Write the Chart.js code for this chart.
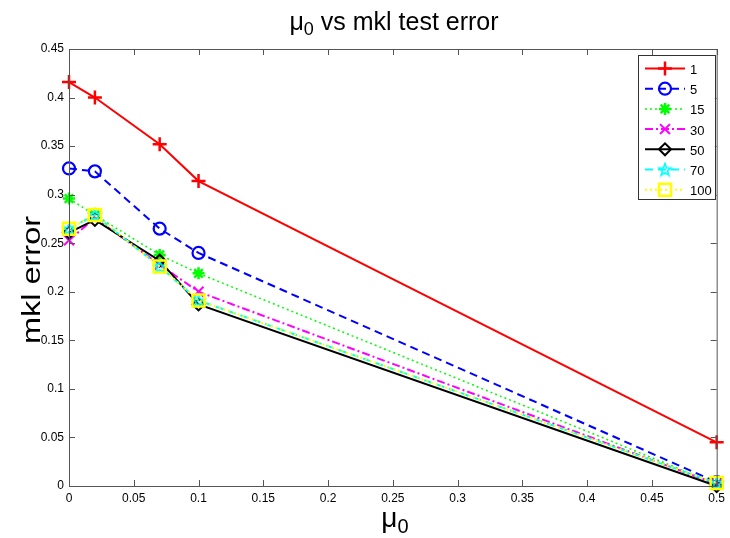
<!DOCTYPE html>
<html>
<head>
<meta charset="utf-8">
<script src="https://cdn.jsdelivr.net/npm/chart.js@4.4.1/dist/chart.umd.min.js"></script>
<style>
  html, body { margin: 0; padding: 0; background: #fff; }
  #wrap { width: 730px; height: 538px; }
</style>
</head>
<body>
<div id="wrap"><canvas id="chart" width="730" height="538"></canvas></div>
<script>
// mu_0 values on the x axis
const muValues = [0, 0.02, 0.07, 0.1, 0.5];

// mkl test error for each setting
const err1 = [0.416, 0.400, 0.352, 0.314, 0.045];
const err5 = [0.327, 0.324, 0.265, 0.240, 0.004];
const err15 = [0.296, 0.279, 0.238, 0.219, 0.002];
const err30 = [0.253, 0.276, 0.228, 0.200, 0.002];
const err50 = [0.261, 0.274, 0.232, 0.187, 0.000];
const err70 = [0.265, 0.279, 0.226, 0.191, 0.003];
const err100 = [0.265, 0.279, 0.226, 0.191, 0.003];

const seriesNames = ['1', '5', '15', '30', '50', '70', '100'];
const xTickValues = [0, 0.05, 0.1, 0.15, 0.2, 0.25, 0.3, 0.35, 0.4, 0.45, 0.5];
const yTickValues = [0, 0.05, 0.1, 0.15, 0.2, 0.25, 0.3, 0.35, 0.4, 0.45];

const FONT = '"Liberation Sans", Arial, Helvetica, sans-serif';

// hollow five point star used for the "70" series
function makePentagram(size, color) {
    const c = document.createElement('canvas');
    c.width = size;
    c.height = size;
    const g = c.getContext('2d');
    const cx = size / 2, cy = size / 2 + 0.5;
    const R = size / 2 - 1.5, r = R * 0.4;
    g.beginPath();
    for (let k = 0; k < 10; k++) {
        const a = -Math.PI / 2 + k * Math.PI / 5;
        const rr = k % 2 ? r : R;
        g.lineTo(cx + rr * Math.cos(a), cy + rr * Math.sin(a));
    }
    g.closePath();
    g.strokeStyle = color;
    g.lineWidth = 1.6;
    g.stroke();
    return c;
}

const pentagram = makePentagram(16, '#00ffff');

const styles = [
    { color: '#ff0000', dash: [], width: 2, point: 'cross', radius: 7, pw: 2.5 },
    { color: '#0000ff', dash: [8, 5], width: 2, point: 'circle', radius: 6, pw: 2.2 },
    { color: '#00ff00', dash: [2, 3], width: 1.5, point: 'star', radius: 6, pw: 2.5 },
    { color: '#ff00ff', dash: [8, 3, 2, 3], width: 2, point: 'crossRot', radius: 7, pw: 2 },
    { color: '#000000', dash: [], width: 2, point: 'rectRot', radius: 6, pw: 2 },
    { color: '#00ffff', dash: [8, 5], width: 2, point: pentagram, radius: 8, pw: 2 },
    { color: '#ffff00', dash: [2, 3], width: 2, point: 'rect', radius: 8.5, pw: 2.5 }
];

const seriesData = [err1, err5, err15, err30, err50, err70, err100];

const datasets = seriesData.map(function (vals, i) {
    const s = styles[i];
    return {
        label: seriesNames[i],
        data: muValues.map((x, j) => ({ x: x, y: vals[j] })),
        borderColor: s.color,
        borderWidth: s.width,
        borderDash: s.dash,
        pointStyle: s.point,
        pointRadius: s.radius,
        pointBorderWidth: s.pw,
        pointBorderColor: s.color,
        pointBackgroundColor: 'rgba(0,0,0,0)',
        tension: 0,
        clip: false,
        order: seriesData.length - 1 - i
    };
});

// draw text with a "0" subscript after the mu
function drawMuText(ctx, cx, baseline, size, rest) {
    const big = size + 'px ' + FONT;
    const small = Math.round(size * 0.7) + 'px ' + FONT;
    ctx.font = big;
    const wMu = ctx.measureText('\u03bc').width;
    const wRest = ctx.measureText(rest).width;
    ctx.font = small;
    const wSub = ctx.measureText('0').width;
    let x = cx - (wMu + wSub + wRest) / 2;
    ctx.textAlign = 'left';
    ctx.textBaseline = 'alphabetic';
    ctx.font = big;
    ctx.fillText('\u03bc', x, baseline);
    x += wMu;
    ctx.font = small;
    ctx.fillText('0', x, baseline + size * 0.2);
    x += wSub;
    ctx.font = big;
    ctx.fillText(rest, x, baseline);
}

const decorPlugin = {
    id: 'decor',
    beforeDraw(chart) {
        const ctx = chart.ctx;
        ctx.save();
        ctx.fillStyle = '#fff';
        ctx.fillRect(0, 0, chart.width, chart.height);
        ctx.restore();
    },
    afterDatasetsDraw(chart) {
        const ctx = chart.ctx;
        const a = chart.chartArea;
        const xs = chart.scales.x, ys = chart.scales.y;
        ctx.save();
        // frame
        ctx.strokeStyle = '#555';
        ctx.lineWidth = 1;
        ctx.setLineDash([]);
        ctx.strokeRect(a.left + 0.5, a.top + 0.5, a.right - a.left, a.bottom - a.top);
        // inward ticks
        ctx.beginPath();
        xTickValues.forEach(v => {
            const px = Math.round(xs.getPixelForValue(v)) + 0.5;
            ctx.moveTo(px, a.bottom); ctx.lineTo(px, a.bottom - 6);
            ctx.moveTo(px, a.top); ctx.lineTo(px, a.top + 6);
        });
        yTickValues.forEach(v => {
            const py = Math.round(ys.getPixelForValue(v)) + 0.5;
            ctx.moveTo(a.left, py); ctx.lineTo(a.left + 6, py);
            ctx.moveTo(a.right, py); ctx.lineTo(a.right - 6, py);
        });
        ctx.stroke();

        // title and axis labels
        ctx.fillStyle = '#000';
        drawMuText(ctx, 394, 30, 25, ' vs mkl test error');
        drawMuText(ctx, 395, 527, 28, '');
        ctx.save();
        ctx.translate(33, 280);
        ctx.rotate(-Math.PI / 2);
        ctx.scale(1.25, 1);
        ctx.font = '26px ' + FONT;
        ctx.textAlign = 'center';
        ctx.textBaseline = 'middle';
        ctx.fillText('mkl error', 0, 0);
        ctx.restore();

        // legend box
        const lx = 638, ly = 55, lw = 77, lh = 144;
        ctx.fillStyle = '#fff';
        ctx.fillRect(lx, ly, lw, lh);
        ctx.strokeStyle = '#333';
        ctx.strokeRect(lx + 0.5, ly + 0.5, lw, lh);
        chart.data.datasets.forEach((ds, i) => {
            const s = styles[i];
            const y = ly + 13.5 + i * 20.2;
            ctx.strokeStyle = s.color;
            ctx.lineWidth = s.width;
            ctx.setLineDash(s.dash);
            ctx.beginPath();
            ctx.moveTo(lx + 7, y);
            ctx.lineTo(lx + 47, y);
            ctx.stroke();
            ctx.setLineDash([]);
            if (typeof s.point === 'string') {
                ctx.lineWidth = s.pw;
                ctx.fillStyle = 'rgba(0,0,0,0)';
                Chart.helpers.drawPoint(ctx, {
                    pointStyle: s.point, radius: s.radius, rotation: 0, borderWidth: s.pw
                }, lx + 27, y);
            } else {
                ctx.drawImage(s.point, lx + 27 - s.point.width / 2, y - s.point.height / 2);
            }
            ctx.fillStyle = '#000';
            ctx.font = '13px ' + FONT;
            ctx.textAlign = 'left';
            ctx.textBaseline = 'middle';
            ctx.fillText(ds.label, lx + 52, y + 2);
        });
        ctx.restore();
    }
};

new Chart(document.getElementById('chart'), {
    type: 'line',
    data: { datasets: datasets },
    options: {
        responsive: false,
        animation: false,
        devicePixelRatio: 1,
        layout: { padding: { top: 49, right: 10, left: 0, bottom: 0 } },
        plugins: {
            legend: { display: false },
            tooltip: { enabled: false },
            title: { display: false }
        },
        scales: {
            x: {
                type: 'linear',
                min: 0,
                max: 0.5,
                afterBuildTicks: s => { s.ticks = xTickValues.map(v => ({ value: v })); },
                afterFit: s => { s.height = 52; },
                grid: { display: false, drawTicks: false },
                border: { display: false },
                ticks: {
                    color: '#000',
                    padding: 5,
                    maxRotation: 0,
                    font: { family: FONT, size: 12 },
                    callback: v => String(+v.toFixed(2))
                }
            },
            y: {
                type: 'linear',
                min: 0,
                max: 0.45,
                afterBuildTicks: s => { s.ticks = yTickValues.map(v => ({ value: v })); },
                afterFit: s => { s.width = 69; },
                grid: { display: false, drawTicks: false },
                border: { display: false },
                ticks: {
                    color: '#000',
                    padding: 5,
                    font: { family: FONT, size: 12 },
                    callback: v => String(+v.toFixed(2))
                }
            }
        }
    },
    plugins: [decorPlugin]
});
</script>
</body>
</html>
